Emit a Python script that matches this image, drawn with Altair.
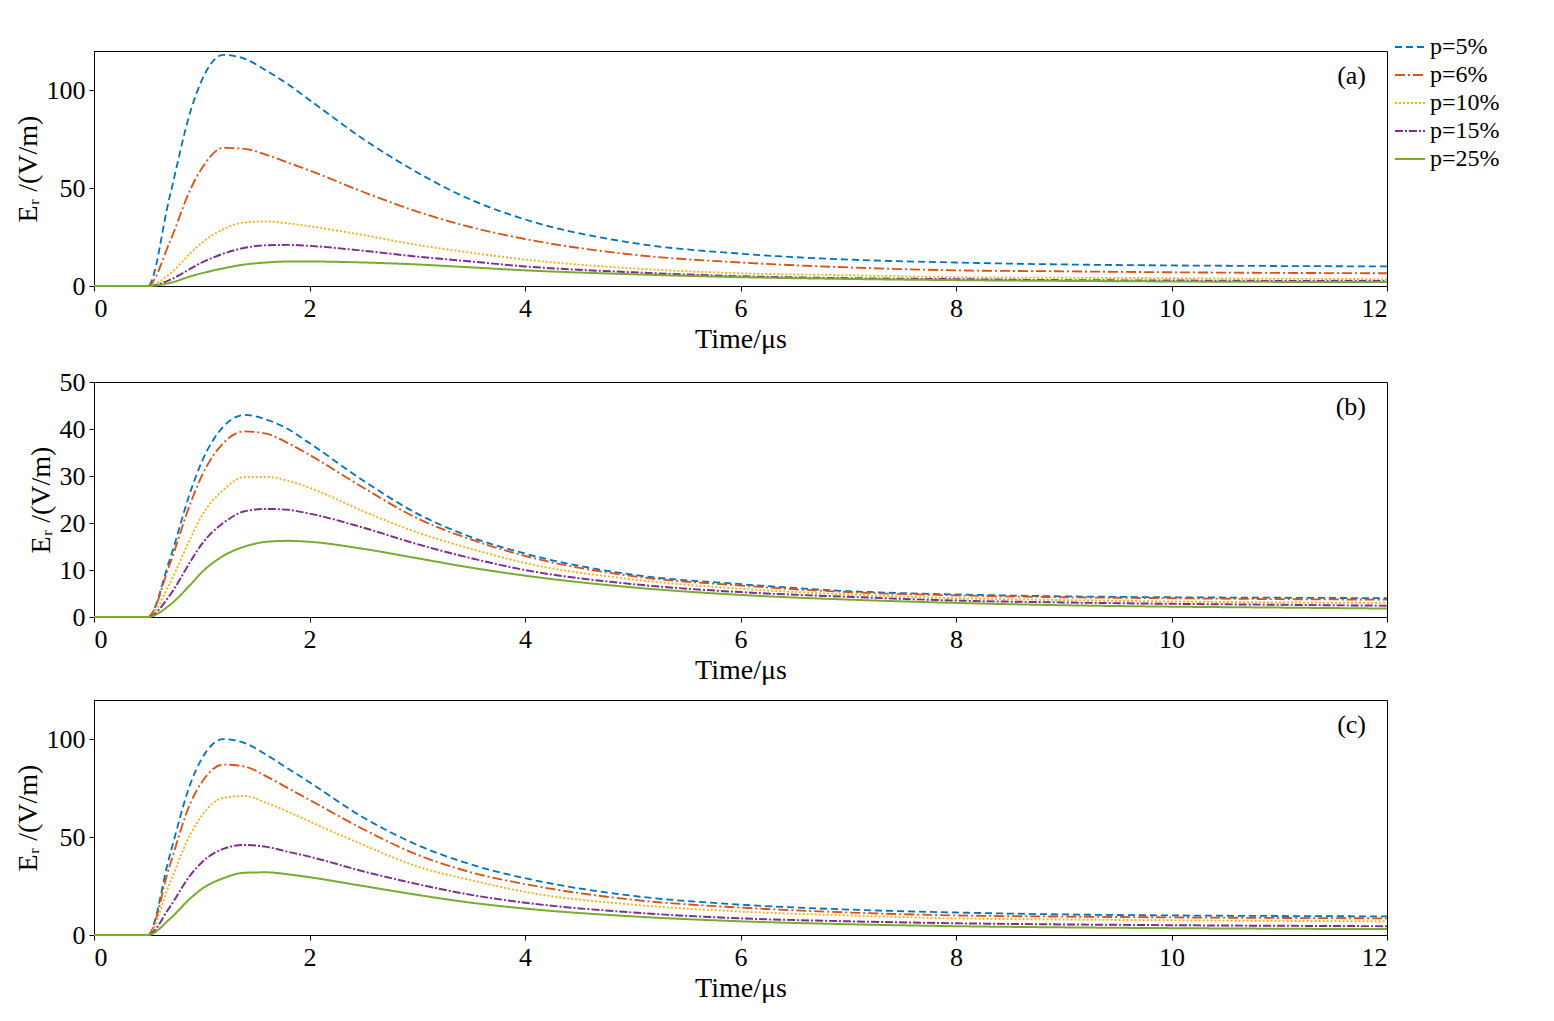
import altair as alt
import pandas as pd

T = [0, 0.5, 0.7, 0.9, 1.0, 1.2, 1.4, 1.6, 1.8, 2, 2.5, 3, 3.5, 4, 5, 6, 7, 8, 9, 10, 11, 12]
series = ["p=5%", "p=6%", "p=10%", "p=15%", "p=25%"]

a_p5  = [0, 0, 45, 90, 105, 118, 116, 110, 103, 95, 75, 58, 44, 34, 22, 16.5, 13.5, 12, 11, 10.5, 10.2, 10]
a_p6  = [0, 0, 22, 50, 60, 70.5, 70, 67, 63, 59, 48, 38, 30, 24, 16, 12, 9.5, 8, 7.5, 7, 6.7, 6.5]
a_p10 = [0, 0, 6, 17, 22, 29, 32.5, 33, 32, 30.5, 26, 21, 17, 13.5, 9, 6.5, 5.5, 4.5, 4.2, 4, 3.7, 3.5]
a_p15 = [0, 0, 3, 9, 12, 16.5, 19.5, 20.8, 21, 20.5, 18, 15, 12.5, 10, 7, 5, 4, 3.5, 3, 2.8, 2.6, 2.5]
a_p25 = [0, 0, 1.5, 5, 6.5, 9, 11, 12, 12.5, 12.5, 12, 11, 9.5, 8, 6, 4.5, 3.6, 3, 2.6, 2.3, 2.1, 2]

b_p5  = [0, 0, 12, 27, 33, 40.5, 43, 42, 40, 37, 29, 22, 17, 13.5, 9, 7, 5.5, 4.8, 4.4, 4.2, 4.1, 4]
b_p6  = [0, 0, 11, 24.5, 30, 37, 39.5, 39, 37, 34.5, 27.5, 21, 16.5, 13, 8.7, 6.7, 5.3, 4.6, 4.2, 4, 3.8, 3.7]
b_p10 = [0, 0, 7, 17, 21.5, 27, 29.8, 29.8, 29, 27.5, 22.5, 18, 14.5, 11.5, 8, 6, 4.8, 4, 3.6, 3.3, 3.1, 3]
b_p15 = [0, 0, 4.5, 12, 15.5, 20, 22.5, 23, 22.8, 22, 19, 15.5, 12.5, 10, 7, 5.3, 4.3, 3.5, 3.1, 2.8, 2.6, 2.4]
b_p25 = [0, 0, 2.5, 7, 9.5, 13, 15, 16, 16.2, 16, 14.5, 12.5, 10.5, 8.8, 6.3, 4.7, 3.7, 3, 2.5, 2.2, 2, 1.8]

c_p5  = [0, 0, 40, 78, 90, 100, 98, 92, 85, 78, 60, 46, 36, 29, 20, 15.5, 13, 11.5, 10.5, 10, 9.7, 9.5]
c_p6  = [0, 0, 35, 68, 78, 87, 86, 81, 75, 69, 54, 41, 32, 26, 18, 14, 11.5, 10, 9.4, 9, 8.7, 8.5]
c_p10 = [0, 0, 26, 52, 61, 70, 71, 67.5, 63, 58, 46, 35, 28, 22, 15.5, 12, 10, 8.5, 7.9, 7.5, 7.2, 7]
c_p15 = [0, 0, 14, 31, 37, 44, 46, 45, 42.5, 40, 32.5, 26, 20.5, 16.5, 11.5, 8.5, 7, 6, 5.4, 5, 4.7, 4.5]
c_p25 = [0, 0, 8, 19, 23.5, 29, 31.8, 32, 31, 29.5, 25, 20.5, 16.5, 13.5, 9.5, 7, 5.5, 4.5, 3.9, 3.5, 3.2, 3]

panels = [
    ("(a)", [a_p5, a_p6, a_p10, a_p15, a_p25], [0, 120], [0, 50, 100]),
    ("(b)", [b_p5, b_p6, b_p10, b_p15, b_p25], [0, 50], [0, 10, 20, 30, 40, 50]),
    ("(c)", [c_p5, c_p6, c_p10, c_p15, c_p25], [0, 120], [0, 50, 100]),
]

colors = ["#0072BD", "#D95319", "#EDB120", "#7E2F8E", "#77AC30"]
dashes = [[7, 4], [10, 3, 2, 3], [2, 2], [8, 2, 2, 2], [1, 0]]
widths = [1.8, 2, 3.2, 1.2, 1.2]
FONT = "Liberation Serif"

charts = []
for i, (lab, vals, dom, ticks) in enumerate(panels):
    rows = []
    for s, v in zip(series, vals):
        for t, y in zip(T, v):
            rows.append({"t": t, "v": y, "s": s})
    df = pd.DataFrame(rows)
    legend = None
    if i == 0:
        legend = alt.Legend(title=None, orient="none", legendX=1300, legendY=-20,
                            labelFontSize=24, labelFont=FONT, symbolSize=900,
                            symbolStrokeWidth=1.6, rowPadding=-6, labelLimit=200)
    line = alt.Chart(df).mark_line(interpolate="monotone").encode(
        x=alt.X("t:Q", scale=alt.Scale(domain=[0, 12], nice=False),
                axis=alt.Axis(title="Time/μs", values=list(range(0, 13, 2)), grid=False)),
        y=alt.Y("v:Q", scale=alt.Scale(domain=dom, nice=False),
                axis=alt.Axis(title="Eᵣ /(V/m)", values=ticks, grid=False)),
        color=alt.Color("s:N", sort=series, scale=alt.Scale(domain=series, range=colors), legend=legend),
        strokeDash=alt.StrokeDash("s:N", sort=series, scale=alt.Scale(domain=series, range=dashes), legend=legend),
        strokeWidth=alt.StrokeWidth("s:N", sort=series, scale=alt.Scale(domain=series, range=widths), legend=None),
    )
    txt = alt.Chart(pd.DataFrame({"l": [lab]})).mark_text(
        font=FONT, fontSize=26, align="right", baseline="top"
    ).encode(text="l:N", x=alt.value(1272), y=alt.value(12))
    charts.append(alt.layer(line, txt).properties(width=1293, height=235))

chart = alt.vconcat(*charts, spacing=14).resolve_scale(
    color="independent", strokeDash="independent", strokeWidth="independent"
).properties(
    padding={"left": 5, "top": 22, "right": 5, "bottom": 5}
).configure_axis(
    labelFont=FONT, titleFont=FONT, labelFontSize=26, titleFontSize=28,
    labelColor="black", titleColor="black", domainColor="black", tickColor="black",
    titleFontWeight="normal", labelPadding=4, titlePadding=4
).configure_view(stroke="black", strokeWidth=1)

chart.save("out.html", embed_options={"renderer": "svg", "actions": False})
